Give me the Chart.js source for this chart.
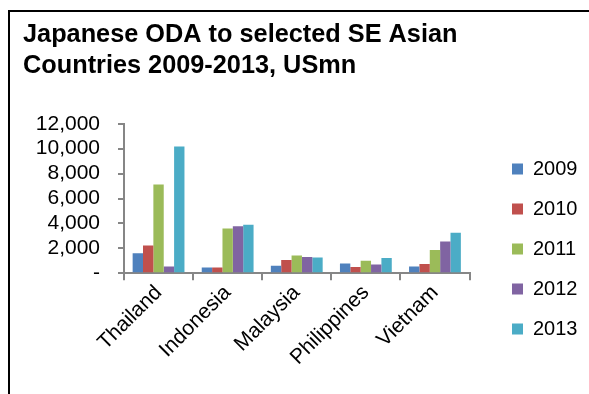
<!DOCTYPE html>
<html>
<head>
<meta charset="utf-8">
<script src="https://cdn.jsdelivr.net/npm/chart.js@4"></script>
<style>
  html, body { margin: 0; padding: 0; background: #fff; overflow: hidden; }
  #wrap { position: relative; width: 589px; height: 394px; }
  #frame { position: absolute; left: 8px; top: 10px; width: 700px; height: 500px; border: 2px solid #000; box-sizing: border-box; pointer-events: none; }
  canvas { position: absolute; left: 0; top: 0; }
</style>
</head>
<body>
<div id="wrap">
  <canvas id="odaChart" width="589" height="394"></canvas>
  <div id="frame"></div>
</div>
<script>
const countries = ["Thailand", "Indonesia", "Malaysia", "Philippines", "Vietnam"];
const years = ["2009", "2010", "2011", "2012", "2013"];
const oda2009 = [1620, 480, 610, 800, 560];
const oda2010 = [2240, 480, 1070, 510, 750];
const oda2011 = [7120, 3600, 1440, 1010, 1870];
const oda2012 = [560, 3780, 1310, 720, 2560];
const oda2013 = [10180, 3900, 1280, 1230, 3250];
const colors = ["#4F81BD", "#C0504D", "#9BBB59", "#8064A2", "#4BACC6"];

const series = [oda2009, oda2010, oda2011, oda2012, oda2013];
const axisGrey = "#868686";
const font = "'Liberation Sans', Arial, sans-serif";

const ctx = document.getElementById("odaChart").getContext("2d");

// Legend sits lower and further right than the default right-hand placement
const legendPlacement = {
  id: "legendPlacement",
  afterLayout: function (chart) {
    const legend = chart.legend;
    const w = legend.right - legend.left;
    const h = legend.bottom - legend.top;
    legend.left = 492;
    legend.right = legend.left + w;
    legend.top = 139;
    legend.bottom = legend.top + h;
  },
};

new Chart(ctx, {
  type: "bar",
  data: {
    labels: countries,
    datasets: series.map((values, i) => ({
      label: years[i],
      data: values,
      backgroundColor: colors[i],
      borderWidth: 0,
      categoryPercentage: 0.75,
      barPercentage: 1,
    })),
  },
  options: {
    responsive: false,
    animation: false,
    devicePixelRatio: 1,
    layout: {
      padding: { left: 23, right: 24, top: 0, bottom: 24 },
    },
    scales: {
      x: {
        grid: {
          display: true,
          drawOnChartArea: false,
          offset: true,
          color: axisGrey,
          lineWidth: 2,
          tickLength: 7,
        },
        border: { color: axisGrey, width: 2 },
        ticks: {
          color: "#000",
          font: { family: font, size: 21 },
          minRotation: 45,
          maxRotation: 45,
          padding: 0,
        },
      },
      y: {
        min: 0,
        max: 12000,
        afterFit: function (scale) {
          scale.width = 101;
        },
        grid: {
          display: true,
          drawOnChartArea: false,
          color: axisGrey,
          lineWidth: 2,
          tickLength: 6,
        },
        border: { color: axisGrey, width: 2 },
        ticks: {
          stepSize: 2000,
          autoSkip: false,
          color: "#000",
          padding: 18,
          font: { family: font, size: 21 },
          callback: function (value) {
            return value === 0 ? "-" : value.toLocaleString("en-US");
          },
        },
      },
    },
    plugins: {
      title: {
        display: true,
        text: ["Japanese ODA to selected SE Asian", "Countries 2009-2013, USmn"],
        align: "start",
        color: "#000",
        font: { family: font, size: 25.3, weight: "bold", lineHeight: 1.2 },
        padding: { top: 20, bottom: 43 },
      },
      legend: {
        position: "right",
        align: "start",
        labels: {
          color: "#000",
          font: { family: font, size: 20 },
          boxWidth: 11,
          boxHeight: 11,
          padding: 20,
        },
      },
      tooltip: { enabled: false },
    },
  },
  plugins: [legendPlacement],
});
</script>
</body>
</html>
